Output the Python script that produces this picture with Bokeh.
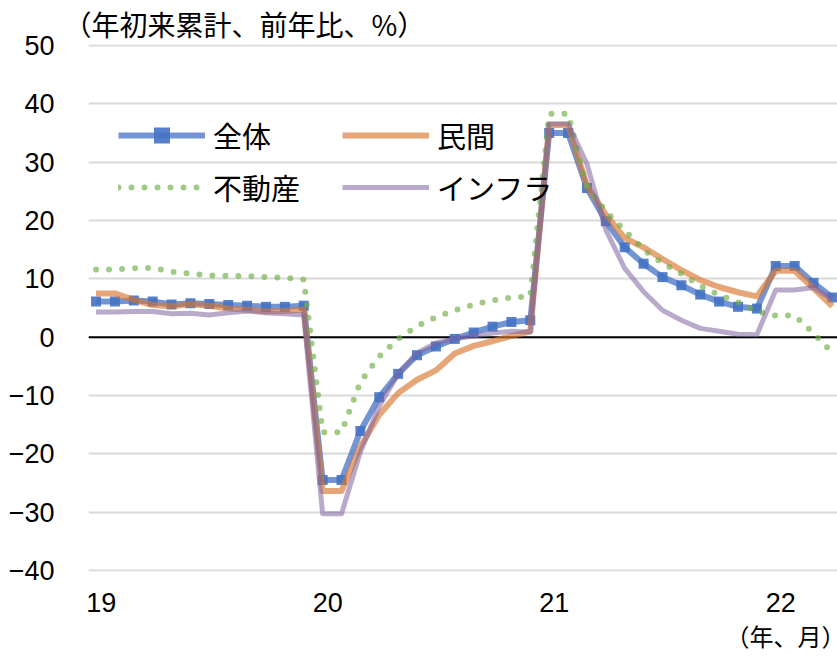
from bokeh.plotting import figure
from bokeh.models import (Range1d, FixedTicker, Span, Title, Legend, LegendItem,
                          ColumnDataSource, CustomJSTickFormatter)
from bokeh.embed import file_html
from bokeh.resources import INLINE

# ---- data (cumulative YTD, y/y %), monthly 2019-01 .. 2022-04 ----
year_starts = [0, 12, 24, 36]
year_labels = ["19", "20", "21", "22"]

total = [6.1, 6.1, 6.3, 6.1, 5.6, 5.8, 5.7, 5.5, 5.4, 5.2, 5.2, 5.4,
         -24.5, -24.5, -16.1, -10.3, -6.3, -3.1, -1.6, -0.3, 0.8, 1.8, 2.6, 2.9,
         35.0, 35.0, 25.6, 19.9, 15.4, 12.6, 10.3, 8.9, 7.3, 6.1, 5.2, 4.9,
         12.2, 12.2, 9.3, 6.8]
private = [7.5, 7.5, 6.4, 5.5, 5.3, 5.7, 5.4, 4.9, 4.7, 4.4, 4.5, 4.7,
           -26.4, -26.4, -18.8, -13.3, -9.6, -7.3, -5.7, -2.8, -1.5, -0.7, 0.2, 1.0,
           36.4, 36.4, 26.0, 21.0, 17.0, 15.4, 13.4, 11.5, 9.8, 8.6, 7.7, 7.0,
           11.4, 11.4, 8.4, 5.3]
realestate = [11.6, 11.6, 11.8, 11.9, 11.2, 10.9, 10.6, 10.5, 10.5, 10.3, 10.2, 9.9,
              -16.3, -16.3, -7.7, -3.3, -0.3, 1.9, 3.4, 4.6, 5.6, 6.3, 6.8, 7.0,
              38.3, 38.3, 25.6, 21.6, 18.3, 15.0, 12.7, 10.9, 8.8, 7.2, 6.0, 4.4,
              3.7, 3.7, 0.7, -2.7]
infra = [4.3, 4.3, 4.4, 4.4, 4.0, 4.1, 3.8, 4.2, 4.5, 4.2, 4.0, 3.8,
         -30.3, -30.3, -19.7, -11.8, -6.3, -2.7, -1.0, -0.3, 0.2, 0.7, 1.0, 0.9,
         36.6, 36.6, 29.7, 18.4, 11.8, 7.8, 4.6, 2.9, 1.5, 1.0, 0.5, 0.4,
         8.1, 8.1, 8.5, 6.5]
x = list(range(len(total)))

src = ColumnDataSource(dict(x=x, total=total, private=private,
                            realestate=realestate, infra=infra))

JP = "Noto Sans CJK JP"
NUM = "Liberation Sans"
LABEL_SHIFT = 0.27  # year labels sit slightly right of the first month

p = figure(width=837, height=662, output_backend="svg", toolbar_location=None,
           x_range=Range1d(-0.40, 39.27), y_range=Range1d(-40.2, 50.2),
           min_border_left=88, min_border_right=0, min_border_top=44,
           min_border_bottom=91)
p.outline_line_color = None
p.background_fill_color = "white"

# axes
p.yaxis.ticker = FixedTicker(ticks=list(range(-40, 51, 10)))
p.xaxis.ticker = FixedTicker(ticks=[s + LABEL_SHIFT for s in year_starts])
p.xaxis.formatter = CustomJSTickFormatter(
    args=dict(labels=year_labels, shift=LABEL_SHIFT),
    code="return labels[Math.round((tick - shift) / 12)];")
for ax in (p.xaxis[0], p.yaxis[0]):
    ax.axis_line_color = None
    ax.major_tick_line_color = None
    ax.minor_tick_line_color = None
    ax.major_label_text_font = NUM
    ax.major_label_text_font_size = "27px"
    ax.major_label_text_color = "black"
p.yaxis.major_label_standoff = 28
p.xaxis.major_label_standoff = 15

p.xgrid.grid_line_color = None
p.ygrid.grid_line_color = "#D9D9D9"
p.ygrid.grid_line_width = 2

p.add_layout(Span(location=0, dimension="width", line_color="black",
                  line_width=2, level="underlay"))

# series
r_tot = p.line("x", "total", source=src, line_color="#4472C4", line_alpha=0.75,
               line_width=6, line_join="round")
r_tot_m = p.scatter("x", "total", source=src, marker="square", size=10,
                    fill_color="#4472C4", fill_alpha=0.9, line_color=None)
r_pri = p.line("x", "private", source=src, line_color="#D9772F", line_alpha=0.65,
               line_width=6, line_join="round")
r_re = p.line("x", "realestate", source=src, line_color="#70AD47", line_alpha=0.65,
              line_width=6, line_dash="0 13", line_cap="round")
r_inf = p.line("x", "infra", source=src, line_color="#8064A2", line_alpha=0.55,
               line_width=5, line_join="round")

legend = Legend(items=[LegendItem(label="全体", renderers=[r_tot, r_tot_m]),
                       LegendItem(label="民間", renderers=[r_pri]),
                       LegendItem(label="不動産", renderers=[r_re]),
                       LegendItem(label="インフラ", renderers=[r_inf])],
                location=(30, 363), orientation="horizontal", ncols=2,
                glyph_width=87, glyph_height=40, label_height=40,
                label_width=119, label_standoff=8, spacing=10, padding=0,
                margin=0, border_line_color=None, background_fill_alpha=0,
                label_text_font=JP, label_text_font_size="29px",
                label_text_color="black")
p.add_layout(legend)

p.add_layout(Title(text="（年初来累計、前年比、%）", align="left", offset=-25,
                   text_font=JP, text_font_size="28px", text_font_style="normal",
                   text_color="black", standoff=2), "above")
p.add_layout(Title(text="（年、月）", align="right", offset=-8,
                   text_font=JP, text_font_size="24px", text_font_style="normal",
                   text_color="black", standoff=2), "below")

open("out.html", "w").write(file_html(p, INLINE))
